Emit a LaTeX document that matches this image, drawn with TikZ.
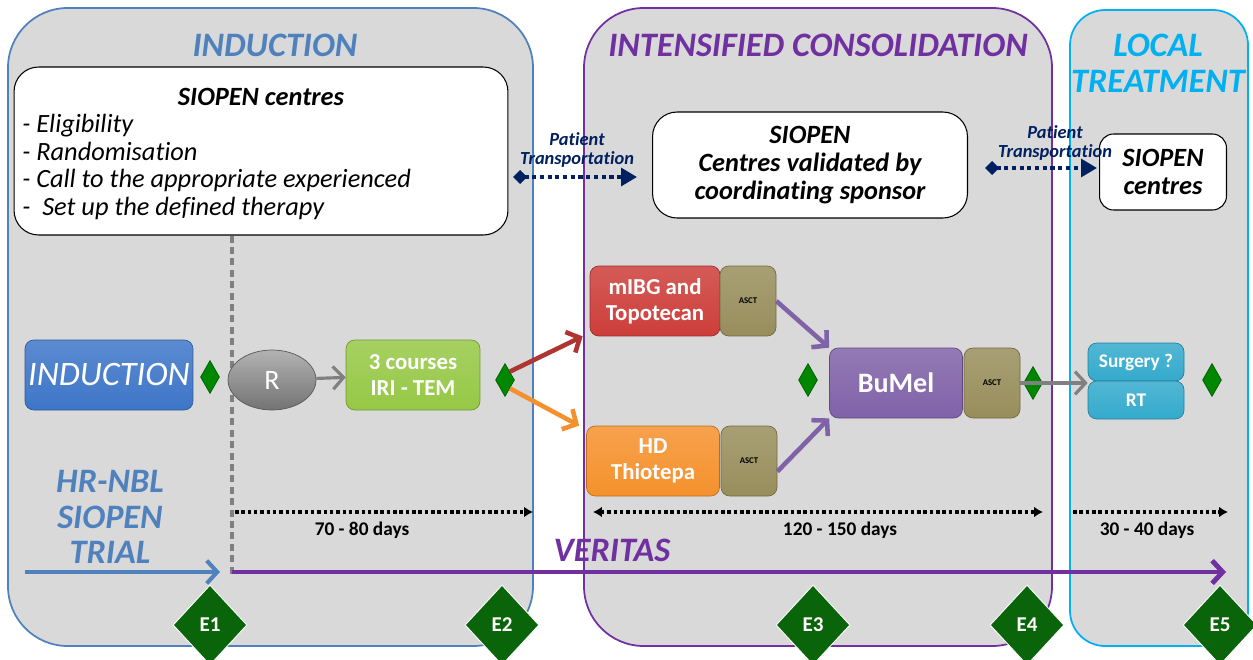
\documentclass[tikz,border=0pt]{standalone}
\usepackage{fontspec}
\setmainfont{Carlito}[Ligatures=NoCommon]
\usetikzlibrary{shapes.geometric,arrows.meta}

\definecolor{indblue}{RGB}{79,129,189}
\definecolor{conspurple}{RGB}{112,48,160}
\definecolor{localcyan}{RGB}{0,176,240}
\definecolor{panelgray}{RGB}{217,217,217}
\definecolor{transnavy}{RGB}{0,32,96}
\definecolor{indbox}{RGB}{62,118,200}
\definecolor{irigreen}{RGB}{150,200,70}
\definecolor{mibgred}{RGB}{205,62,58}
\definecolor{hdorange}{RGB}{245,145,45}
\definecolor{asctkhaki}{RGB}{152,142,92}
\definecolor{bumelpurple}{RGB}{128,98,168}
\definecolor{rtcyan}{RGB}{52,170,205}
\definecolor{gemgreen}{RGB}{0,135,0}
\definecolor{endgreen}{RGB}{10,100,10}

\tikzset{
  panel/.style={line width=1pt, fill=panelgray, rounded corners=34pt},
  phase/.style={font=\fontsize{19.5}{20.5}\selectfont\bfseries\itshape},
  whitebox/.style={draw=black, fill=white, rounded corners=14pt, line width=0.6pt},
  drug/.style={rounded corners=5pt, draw=#1!75!black, top color=#1!85!white, bottom color=#1,
    text=white, font=\fontsize{13}{15}\selectfont\bfseries, align=center,
    minimum height=1.4cm, inner sep=1pt},
  asct/.style={drug=asctkhaki, text=black, font=\fontsize{5}{6}\selectfont\bfseries, minimum width=1.12cm},
  gem/.style={diamond, fill=gemgreen, draw=gemgreen!70!black, minimum width=0.38cm,
    minimum height=0.66cm, inner sep=0pt},
  endpoint/.style={diamond, fill=endgreen, draw=white, line width=0.5pt, minimum width=1.48cm,
    minimum height=1.6cm, inner sep=0pt, text=white, font=\fontsize{12}{14}\selectfont\bfseries},
  transport/.style={transnavy, line width=2.2pt, dash pattern=on 2.4pt off 2pt,
    {Diamond[length=8pt,width=8pt]}-{Triangle[length=9pt,width=10pt]}},
  translabel/.style={transnavy, font=\fontsize{10.5}{11.3}\selectfont\bfseries\itshape, align=center},
  duration/.style={black, line width=2pt, dash pattern=on 2pt off 1.6pt},
  daylabel/.style={font=\fontsize{11}{13}\selectfont\bfseries},
  flow/.style={line width=2.6pt, -{Straight Barb[length=6pt,width=13pt]}}
}

\begin{document}
\begin{tikzpicture}[x=0.02cm, y=-0.02cm]
\useasboundingbox (0,0) rectangle (1253,659);

% Phase panels
\draw[panel, draw=indblue] (8,8) rectangle (533,646);
\draw[panel, draw=conspurple] (584,8) rectangle (1052,646);
\draw[panel, draw=localcyan, rounded corners=20pt] (1070,10) rectangle (1248,646);
\node[phase, text=indblue] (indtitle) at (275,45) {INDUCTION};
\node[phase, text=conspurple] (constitle) at (818,45) {INTENSIFIED CONSOLIDATION};
\node[phase, text=localcyan, align=center] (loctitle) at (1158,63) {LOCAL\\TREATMENT};

% Centres
\node[whitebox, minimum width=9.88cm, minimum height=3.36cm] (siopenA) at (261,151) {};
\node[font=\fontsize{15}{16}\selectfont\bfseries\itshape] (siopenAtitle) at (261,97) {SIOPEN centres};
\node[font=\fontsize{15}{15.7}\selectfont\itshape, align=left, anchor=north west, inner sep=0pt]
  (tasks) at (22,114) {- Eligibility\\- Randomisation\\- Call to the appropriate experienced\\- \ Set up the defined therapy};
\node[whitebox, minimum width=6.3cm, minimum height=2.12cm, align=center,
  font=\fontsize{15}{16}\selectfont\bfseries\itshape] (siopenB) at (810,165)
  {SIOPEN\\Centres validated by\\coordinating sponsor};
\node[whitebox, rounded corners=8pt, minimum width=2.54cm, minimum height=1.52cm, align=center,
  font=\fontsize{15}{16}\selectfont\bfseries\itshape] (siopenC) at (1163,172) {SIOPEN\\centres};

% Patient transportation
\coordinate (transAs) at (513,177);
\coordinate (transAe) at (637,177);
\draw[transport] (transAs) -- (transAe);
\node[translabel] (transAlabel) at (577,150) {Patient\\Transportation};
\coordinate (transBs) at (985,168);
\coordinate (transBe) at (1097,168);
\draw[transport] (transBs) -- (transBe);
\node[translabel] (transBlabel) at (1055,143) {Patient\\Transportation};

% Randomisation line
\coordinate (randline) at (232,578);
\draw[gray, line width=2pt, dash pattern=on 4pt off 2.5pt] (siopenA.south -| randline) -- (randline);

% Treatment blocks
\node[drug=indbox, minimum width=3.36cm, font=\fontsize{19.5}{20}\selectfont\itshape] (indnode) at (109,375) {INDUCTION};
\node[gem] (gemA) at (210,377) {};
\node[ellipse, draw=gray!70!black, top color=gray!60, bottom color=gray!90!black, text=white,
  minimum width=1.76cm, minimum height=1.2cm, font=\fontsize{16}{18}\selectfont] (rand) at (272,380) {R};
\node[drug=irigreen, minimum width=2.68cm] (iri) at (413,375) {3 courses\\IRI - TEM};
\node[gem] (gemB) at (505,380) {};
\node[drug=mibgred, minimum width=2.6cm] (mibg) at (655,301) {mIBG and\\Topotecan};
\node[asct] (asctA) at (748,301) {ASCT};
\node[drug=hdorange, minimum width=2.66cm] (hd) at (653,461) {HD\\Thiotepa};
\node[asct] (asctB) at (749,461) {ASCT};
\node[gem] (gemC) at (808,380) {};
\node[drug=bumelpurple, minimum width=2.66cm, font=\fontsize{16}{18}\selectfont\bfseries] (bumel) at (896,383) {BuMel};
\node[asct] (asctC) at (992,383) {ASCT};
\node[gem] (gemD) at (1033,383) {};
\node[drug=rtcyan, minimum width=1.92cm, minimum height=0.76cm, font=\fontsize{11}{12}\selectfont\bfseries] (surgery) at (1136,362) {Surgery ?};
\node[drug=rtcyan, minimum width=1.92cm, minimum height=0.76cm, font=\fontsize{11}{12}\selectfont\bfseries] (rt) at (1136,400) {RT};
\node[gem] (gemE) at (1212,380) {};

% Arrows between blocks
\draw[flow, gray, line width=1.8pt] (rand) -- (iri);
\draw[flow, mibgred!85!black] (gemB.north east) -- ([xshift=-4pt]mibg.south west);
\draw[flow, hdorange] (gemB.south east) -- ([xshift=-4pt]hd.north west);
\draw[flow, bumelpurple] (asctA.east) -- (bumel.north west);
\draw[flow, bumelpurple] ([yshift=-6pt]asctB.east) -- (bumel.south west);
\draw[flow, gray, line width=1.8pt] (asctC.east) -- (asctC.east -| rt.west);

% Durations
\coordinate (durAs) at (235,512);
\coordinate (durAe) at (533,512);
\draw[duration, -{Latex[length=5pt,width=6pt]}] (durAs) -- (durAe);
\node[daylabel] (durAlabel) at (362,530) {70 - 80 days};
\coordinate (durBs) at (593,512);
\coordinate (durBe) at (1043,512);
\draw[duration, {Latex[length=5pt,width=6pt]}-{Latex[length=5pt,width=6pt]}] (durBs) -- (durBe);
\node[daylabel] (durBlabel) at (840,530) {120 - 150 days};
\coordinate (durCs) at (1073,512);
\coordinate (durCe) at (1228,512);
\draw[duration, -{Latex[length=5pt,width=6pt]}] (durCs) -- (durCe);
\node[daylabel] (durClabel) at (1147,530) {30 - 40 days};

% Trials
\node[phase, text=indblue, align=center, font=\fontsize{19.5}{20}\selectfont\bfseries\itshape] (hrnbl) at (110,517) {HR-NBL\\SIOPEN\\TRIAL};
\node[phase, text=conspurple] (veritas) at (612,550) {VERITAS};
\coordinate (hrs) at (25,572);
\coordinate (hre) at (220,572);
\draw[flow, indblue, line width=2.3pt] (hrs) -- (hre);
\coordinate (vers) at (232,572);
\coordinate (vere) at (1226,572);
\draw[flow, conspurple, line width=2.8pt] (vers) -- (vere);

% Evaluation points
\node[endpoint] (evalA) at (210,625) {E1};
\node[endpoint] (evalB) at (502,625) {E2};
\node[endpoint] (evalC) at (813,625) {E3};
\node[endpoint] (evalD) at (1027,625) {E4};
\node[endpoint] (evalE) at (1220,625) {E5};
\end{tikzpicture}
\end{document}
